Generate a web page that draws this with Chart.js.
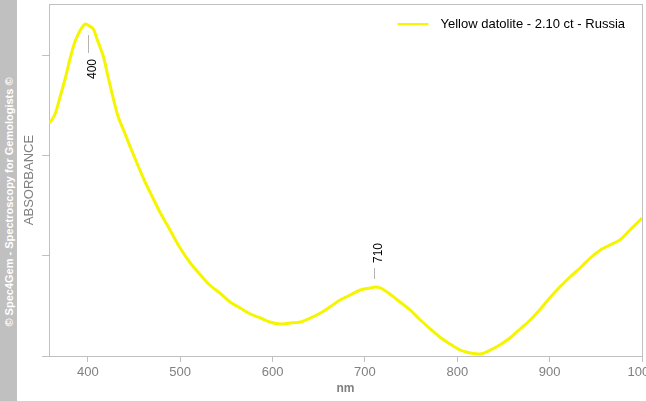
<!DOCTYPE html>
<html>
<head>
<meta charset="utf-8">
<script src="https://cdn.jsdelivr.net/npm/chart.js@4.4.1/dist/chart.umd.min.js"></script>
<style>
  body { margin: 0; background: #fff; }
  #wrap { position: relative; width: 646px; height: 401px; overflow: hidden; }
  #side { position: absolute; left: 0; top: 0; width: 17px; height: 401px; background: #c0c0c0; }
  #side span {
    position: absolute; left: 50%; top: 202px;
    transform: translate(-50%, -50%) rotate(-90deg);
    white-space: nowrap; color: #fff;
    font: bold 11px "Liberation Sans", Arial, sans-serif;
  }
  canvas { position: absolute; left: 0; top: 0; }
</style>
</head>
<body>
<div id="wrap">
  <canvas id="chart" width="646" height="401"></canvas>
  <div id="side"><span>© Spec4Gem - Spectroscopy for Gemologists ©</span></div>
</div>
<script>
// ================================
//            DATA
// ================================
const seriesLabel = "Yellow datolite - 2.10 ct - Russia";

const wavelengths = [
  358, 361, 365, 370, 376, 381, 386, 392, 397, 400, 406, 410, 417, 422, 428,
  433, 440, 446, 455, 462, 470, 478, 489, 500, 511, 522, 532, 543, 554, 565,
  576, 587, 597, 608, 619, 630, 641, 652, 662, 673, 684, 695, 706, 711, 717,
  727, 738, 749, 760, 771, 781, 792, 803, 814, 825, 836, 846, 857, 868, 879,
  890, 900, 911, 922, 933, 944, 955, 965, 976, 987, 998, 1000
];
const absorbance = [
  2.33, 2.36, 2.43, 2.59, 2.79, 2.98, 3.14, 3.26, 3.32, 3.31, 3.27, 3.17, 2.99, 2.79, 2.56,
  2.39, 2.23, 2.09, 1.89, 1.74, 1.59, 1.44, 1.26, 1.08, 0.93, 0.81, 0.71, 0.63, 0.54, 0.48,
  0.42, 0.38, 0.34, 0.32, 0.33, 0.34, 0.38, 0.43, 0.49, 0.56, 0.61, 0.66, 0.68, 0.69, 0.68,
  0.62, 0.54, 0.46, 0.36, 0.27, 0.19, 0.12, 0.06, 0.03, 0.02, 0.06, 0.11, 0.18, 0.27, 0.36,
  0.47, 0.58, 0.69, 0.79, 0.88, 0.98, 1.06, 1.11, 1.16, 1.26, 1.36, 1.38
];

// peak markers
const peakNm = [400, 710];
const peakAbs = [3.31, 0.69];
const peakSide = ["below", "above"];

// ================================
//            STYLE
// ================================
const FONT = '"Liberation Sans", Arial, sans-serif';
const GRID = "#c0c0c0";
const GREY_TXT = "#808080";
const YELLOW = "#f5f500";
Chart.defaults.font.family = FONT;

const peakStyle = {
  below: { from: 10, to: 28, text: 44 },
  above: { from: -8, to: -19, text: -34 },
};

const framePlugin = {
  id: "frame",
  beforeDatasetsDraw(chart) {
    const { ctx, chartArea: a } = chart;
    ctx.save();
    ctx.strokeStyle = GRID;
    ctx.lineWidth = 1;
    ctx.strokeRect(Math.round(a.left) + 0.5, Math.round(a.top) + 0.5,
      Math.round(a.right - a.left), Math.round(a.bottom - a.top));
    ctx.restore();
  },
};

const peakPlugin = {
  id: "peaks",
  afterDatasetsDraw(chart) {
    const { ctx, scales: { x, y } } = chart;
    ctx.save();
    peakNm.forEach((nm, i) => {
      const st = peakStyle[peakSide[i]];
      const px = Math.round(x.getPixelForValue(nm)) + 0.5;
      const py = y.getPixelForValue(peakAbs[i]);
      ctx.strokeStyle = "#b4b4b4";
      ctx.lineWidth = 1;
      ctx.beginPath();
      ctx.moveTo(px, py + st.from);
      ctx.lineTo(px, py + st.to);
      ctx.stroke();

      ctx.save();
      ctx.translate(px + 4, py + st.text);
      ctx.rotate(-Math.PI / 2);
      ctx.fillStyle = "#000";
      ctx.font = "12px " + FONT;
      ctx.textAlign = "center";
      ctx.textBaseline = "middle";
      ctx.fillText(String(nm), 0, 0);
      ctx.restore();
    });
    ctx.restore();
  },
};

const legendPlugin = {
  id: "insideLegend",
  afterDraw(chart) {
    const { ctx, chartArea: a } = chart;
    ctx.save();
    ctx.font = "13px " + FONT;
    const w = ctx.measureText(seriesLabel).width;
    const textX = a.right - 17 - w;
    const yMid = a.top + 20;
    ctx.strokeStyle = YELLOW;
    ctx.lineWidth = 2;
    ctx.beginPath();
    ctx.moveTo(textX - 43, yMid);
    ctx.lineTo(textX - 12, yMid);
    ctx.stroke();
    ctx.fillStyle = "#000";
    ctx.textBaseline = "middle";
    ctx.fillText(seriesLabel, textX, yMid);
    ctx.restore();
  },
};

// ================================
//            CHART
// ================================
new Chart(document.getElementById("chart"), {
  type: "line",
  data: {
    datasets: [
      {
        label: seriesLabel,
        data: wavelengths.map((nm, i) => ({ x: nm, y: absorbance[i] })),
        borderColor: YELLOW,
        borderWidth: 3,
        pointRadius: 0,
        tension: 0.3,
      },
    ],
  },
  options: {
    responsive: false,
    animation: false,
    layout: { padding: { left: 17, top: 4, right: 4, bottom: 0 } },
    plugins: { legend: { display: false }, tooltip: { enabled: false } },
    scales: {
      x: {
        type: "linear",
        min: 358,
        max: 1000,
        afterFit: (s) => {
          s.height = 45;
          s.paddingLeft = 0;
          s.paddingRight = 0;
        },
        ticks: {
          stepSize: 100,
          includeBounds: false,
          color: GREY_TXT,
          font: { size: 13 },
          padding: 3,
          maxRotation: 0,
          callback: (v) => String(v),
        },
        grid: { drawOnChartArea: false, tickLength: 6, color: GRID },
        border: { color: GRID },
        title: {
          display: true,
          text: "nm",
          color: GREY_TXT,
          font: { size: 12, weight: "bold" },
          padding: { top: 0, bottom: 5 },
        },
      },
      y: {
        min: 0,
        max: 3.52,
        afterFit: (s) => {
          s.width = 32;
          s.paddingTop = 0;
          s.paddingBottom = 0;
        },
        ticks: { display: false, stepSize: 1, includeBounds: false },
        grid: { drawOnChartArea: false, tickLength: 7, color: GRID },
        border: { color: GRID },
        title: {
          display: true,
          text: "ABSORBANCE",
          color: GREY_TXT,
          font: { size: 13 },
          padding: { top: 5, bottom: 0 },
        },
      },
    },
  },
  plugins: [framePlugin, peakPlugin, legendPlugin],
});
</script>
</body>
</html>
